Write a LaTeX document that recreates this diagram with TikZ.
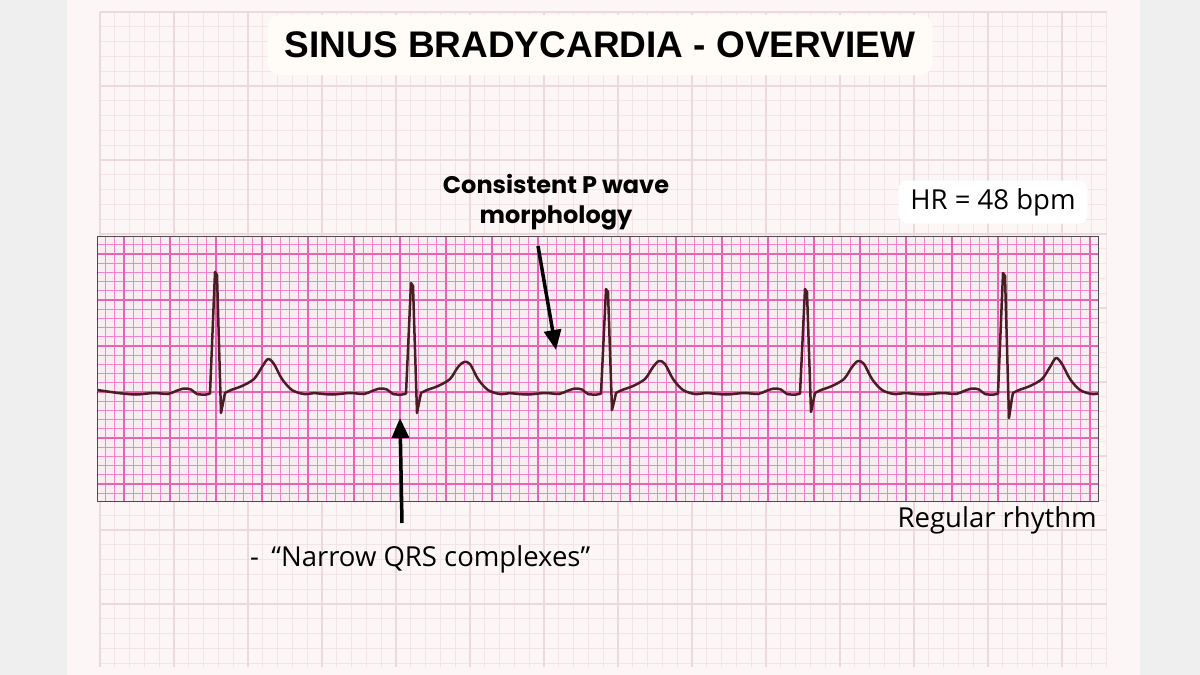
\documentclass[tikz,border=0pt]{standalone}
\usepackage{fontspec}
\setmainfont{Open Sans}
\newfontfamily\titlefont{Liberation Sans}
\newfontfamily\notefont{Poppins}
\usetikzlibrary{arrows.meta}

\definecolor{sidegray}{HTML}{EFEFEF}
\definecolor{paper}{HTML}{FCF6F7}
\definecolor{papergrid}{HTML}{F3E4E7}
\definecolor{papermajor}{HTML}{EDD9DD}
\definecolor{stripfill}{HTML}{F8EEF1}
\definecolor{stripminor}{HTML}{F285C8}
\definecolor{stripmajor}{HTML}{EC62B3}
\definecolor{tracecol}{HTML}{4A1C24}
\definecolor{boxfill}{HTML}{FFFCF7}

\begin{document}
\begin{tikzpicture}[x=1pt,y=-1pt,
  titlebox/.style={fill=boxfill, rounded corners=12pt, minimum width=665pt, minimum height=60pt,
    font=\titlefont\bfseries\fontsize{37}{40}\selectfont},
  hrbox/.style={fill=white, rounded corners=9pt, minimum width=189pt, minimum height=43pt,
    font=\fontsize{27.5}{30}\selectfont},
  notetext/.style={inner sep=0pt, font=\fontsize{27.5}{30}\selectfont},
  pnotetext/.style={align=center, inner sep=0pt, font=\notefont\bfseries\fontsize{24}{30}\selectfont},
  callout/.style={line width=3.5pt, -{Triangle[length=20pt,width=17pt]}},
  ecgtrace/.style={tracecol, line width=2.5pt, line join=round, line cap=round}]

\useasboundingbox (0,0) rectangle (1200,675);

% page and backdrop
\fill[sidegray] (0,0) rectangle (1200,675);
\fill[paper] (67,0) rectangle (1140,675);

% faint paper grid behind everything
\foreach \k in {0,...,68}
  \draw[papergrid, line width=0.8pt] ({100+14.8*\k},12) -- (100+14.8*\k,667);
\foreach \k in {0,...,44}
  \draw[papergrid, line width=0.8pt] (100,{12+14.8*\k}) -- (1107,12+14.8*\k);
\foreach \k in {0,...,13}
  \draw[papermajor, line width=2pt] ({100+74*\k},12) -- (100+74*\k,667);
\foreach \k in {0,...,8}
  \draw[papermajor, line width=2pt] (100,{12+74*\k}) -- (1107,12+74*\k);

% ecg strip: R x / R top / S depth / T top
\def\beats{216/272/413/359, 412/283/413/362, 607/289/410/361, 806/289/412/361, 1004/273/418/358}

\fill[stripfill] (97,236) rectangle (1098,501);
\begin{scope}
\clip (97,236) rectangle (1098,501);
\foreach \k in {-33,...,76}
  \draw[stripminor, line width=1.1pt] ({400+9.2*\k},236) -- (400+9.2*\k,501);
\foreach \k in {-17,...,12}
  \draw[stripminor, line width=1.1pt] (97,{392+9.2*\k}) -- (1098,392+9.2*\k);
\foreach \k in {-35,-30,...,75}
  \draw[stripmajor, line width=1.7pt] ({400+9.2*\k},236) -- (400+9.2*\k,501);
\foreach \k in {-15,-10,...,10}
  \draw[stripmajor, line width=1.7pt] (97,{392+9.2*\k}) -- (1098,392+9.2*\k);

% the trace, one beat at a time
\draw[ecgtrace] (97,390)
  foreach \r/\h/\d/\t in \beats {
    -- plot[smooth, tension=0.5] coordinates {(\r-98,393) (\r-80,394.5) (\r-62,393) (\r-48,394)
        (\r-40,391) (\r-32,388.5) (\r-25,389.5) (\r-19,394) (\r-10,394.5) (\r-6,393.5)}
    -- (\r-1,\h) -- (\r+1,\h+3) -- (\r+5,\d) -- (\r+8,398)
    -- plot[smooth, tension=0.5] coordinates {(\r+9,393) (\r+15,390) (\r+26,386) (\r+38,379)
        (\r+46,367) (\r+52,\t) (\r+58,364) (\r+66,379) (\r+76,390) (\r+88,394) (\r+98,393)}
  };
\end{scope}
\draw[black!70, line width=1pt] (97,236) rectangle (1098,501);

% title and labels
\node[titlebox] (title) at (600,45) {SINUS BRADYCARDIA - OVERVIEW};
\node[hrbox] (hr) at (993,202) {HR = 48 bpm};
\node[pnotetext] (pnote) at (556,202) {Consistent P wave\\morphology};
\node[notetext, anchor=base east] (rhythm) at (1097,527) {Regular rhythm};
\node[notetext, anchor=base west] (qrsnote) at (250,566) {-\hspace{0.45em}“Narrow QRS complexes”};

% arrows
\coordinate (ptail) at (538,246);
\coordinate (ptip) at (556,350);
\coordinate (qtail) at (402,523);
\coordinate (qtip) at (400,418);
\draw[callout] (ptail) -- (ptip);
\draw[callout] (qtail) -- (qtip);

\end{tikzpicture}
\end{document}
